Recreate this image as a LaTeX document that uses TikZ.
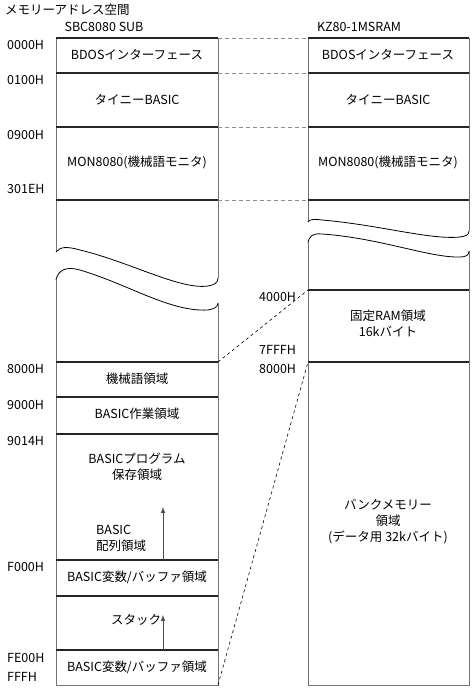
\documentclass[tikz,border=0pt]{standalone}
\usepackage{fontspec}
\setmainfont{Noto Sans CJK JP}
\begin{document}
\begin{tikzpicture}[x=1pt,y=-1pt,font=\fontsize{12.5}{16}\selectfont]
\tikzset{
  mem/.style={draw=black!55,line width=1pt},
  sep/.style={draw=black!85,line width=1.3pt},
  wave/.style={draw=black,line width=0.8pt},
  link/.style={draw=black!45,dash pattern=on 4pt off 3pt,line width=1pt},
  jump/.style={draw=black,dash pattern=on 3pt off 3pt,line width=0.6pt},
  addr/.style={anchor=west,inner sep=0pt},
  growarrow/.style={-latex,draw=black!70,line width=1pt}
}
\useasboundingbox (0,0) rectangle (473,689);
\node[addr] (title) at (5,10) {メモリーアドレス空間};
\node (sbc) at (104,27) {SBC8080 SUB};
\node (kz) at (359,27) {KZ80-1MSRAM};
\draw[mem] (56,252) -- (56,38) -- (218,38) -- (218,278);
\draw[wave] (218,278) .. controls (218,283) and (214,285) .. (208,286) .. controls (180,290) and (130,262) .. (80,250) .. controls (66,246) and (60,247) .. (56,252);
\draw[wave] (56,280) .. controls (58,270) and (66,266) .. (80,270) .. controls (130,285) and (170,312) .. (208,310) .. controls (214,309) and (218,307) .. (218,303);
\draw[mem] (56,280) -- (56,685) -- (218,685) -- (218,303);
\draw[mem] (308,222) -- (308,38) -- (469,38) -- (469,231);
\draw[wave] (308,222) .. controls (310,219) and (314,219) .. (322,220) .. controls (380,225) and (430,240) .. (460,237) .. controls (466,236) and (469,235) .. (469,231);
\draw[wave] (308,243) .. controls (309,236) and (313,233) .. (322,234) .. controls (380,238) and (430,258) .. (460,257) .. controls (466,257) and (469,255) .. (469,251);
\draw[mem] (308,243) -- (308,685) -- (469,685) -- (469,251);
\draw[sep] (56,38) -- (218,38);
\draw[sep] (56,73) -- (218,73);
\draw[sep] (56,127) -- (218,127);
\draw[sep] (56,200) -- (218,200);
\draw[sep] (56,362) -- (218,362);
\draw[sep] (56,397) -- (218,397);
\draw[sep] (56,434) -- (218,434);
\draw[sep] (56,560) -- (218,560);
\draw[sep] (56,596) -- (218,596);
\draw[sep] (56,650) -- (218,650);
\draw[sep] (308,38) -- (469,38);
\draw[sep] (308,73) -- (469,73);
\draw[sep] (308,127) -- (469,127);
\draw[sep] (308,200) -- (469,200);
\draw[sep] (308,290) -- (469,290);
\draw[sep] (308,362) -- (469,362);
\coordinate (s0) at (218,38);
\coordinate (s1) at (218,73);
\coordinate (s2) at (218,127);
\coordinate (s3) at (218,200);
\coordinate (s4) at (218,362);
\coordinate (s5) at (218,685);
\coordinate (k0) at (308,38);
\coordinate (k1) at (308,73);
\coordinate (k2) at (308,127);
\coordinate (k3) at (308,200);
\coordinate (k4) at (308,290);
\coordinate (k5) at (308,362);
\draw[link] (s0) -- (k0);
\draw[link] (s1) -- (k1);
\draw[link] (s2) -- (k2);
\draw[link] (s3) -- (k3);
\draw[jump] (s4) -- (k4);
\draw[jump] (s5) -- (k5);
\node[addr] (h0000) at (7,45) {0000H};
\node[addr] (h0100) at (7,80) {0100H};
\node[addr] (h0900) at (7,135) {0900H};
\node[addr] (h301e) at (7,189) {301EH};
\node[addr] (h8000) at (7,369) {8000H};
\node[addr] (h9000) at (7,405) {9000H};
\node[addr] (h9014) at (7,441) {9014H};
\node[addr] (hf000) at (7,567) {F000H};
\node[addr] (hfe00) at (7,658) {FE00H};
\node[addr] (hffff) at (7,677) {FFFH};
\node[addr] (k4000) at (259,297) {4000H};
\node[addr] (k7fff) at (259,350) {7FFFH};
\node[addr] (k8000) at (259,369) {8000H};
\node (bdos) at (137,55) {BDOSインターフェース};
\node (tiny) at (137,100) {タイニーBASIC};
\node (mon) at (137,162) {MON8080(機械語モニタ)};
\node (mach) at (137,379) {機械語領域};
\node (work) at (137,414) {BASIC作業領域};
\node[align=center] (prog) at (137,467) {BASICプログラム\\保存領域};
\node[addr,align=left] (array) at (96,538) {BASIC\\配列領域};
\node (vars) at (137,577) {BASIC変数/バッファ領域};
\node (stack) at (136,620) {スタック};
\node (buf) at (137,667) {BASIC変数/バッファ領域};
\node (bdos2) at (388,55) {BDOSインターフェース};
\node (tiny2) at (388,100) {タイニーBASIC};
\node (mon2) at (388,162) {MON8080(機械語モニタ)};
\node[align=center] (fixed) at (388,323) {固定RAM領域\\16kバイト};
\node[align=center] (bank) at (388,522) {バンクメモリー\\領域\\(データ用 32kバイト)};
\coordinate (a0) at (163,560);
\coordinate (a1) at (163,507);
\coordinate (b0) at (163,650);
\coordinate (b1) at (163,615);
\draw[growarrow] (a0) -- (a1);
\draw[growarrow] (b0) -- (b1);
\end{tikzpicture}
\end{document}
